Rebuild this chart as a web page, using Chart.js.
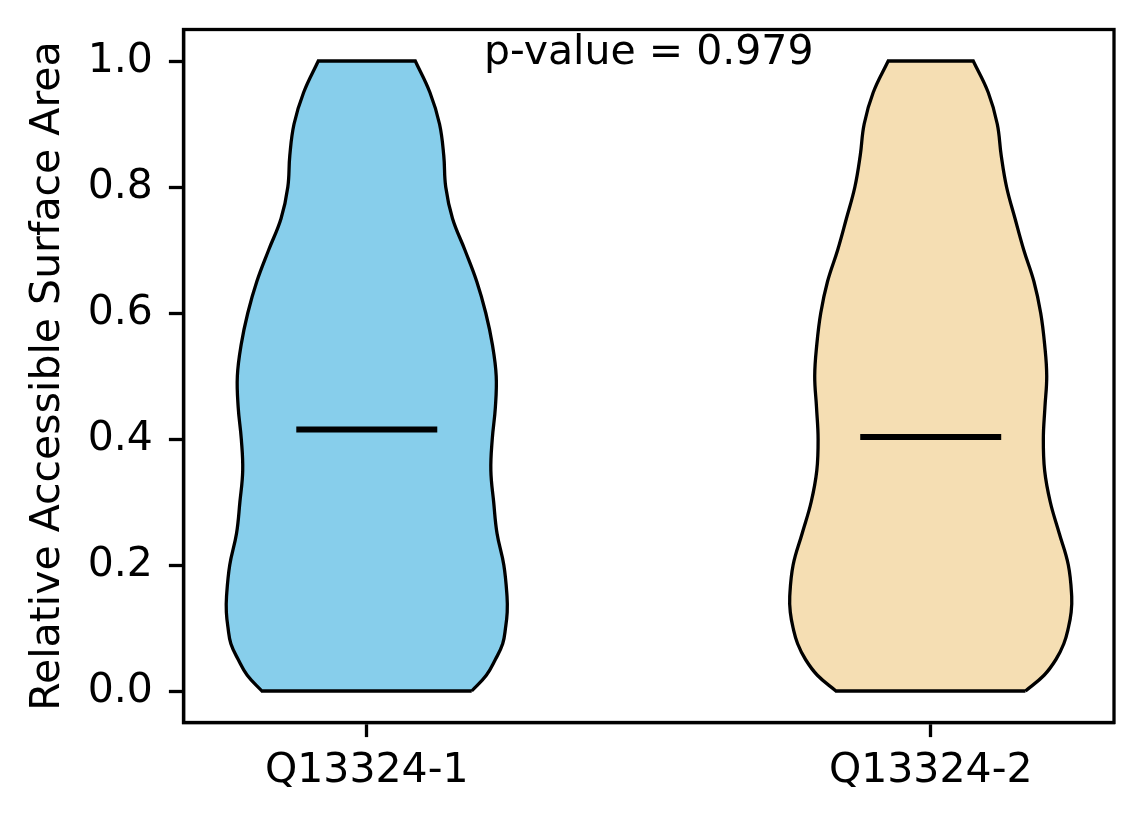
<!DOCTYPE html>
<html>
<head>
<meta charset="utf-8">
<script src="https://cdn.jsdelivr.net/npm/chart.js@4.4.1/dist/chart.umd.min.js"></script>
<style>
  html, body { margin: 0; padding: 0; background: #fff; }
  #contenedor { width: 1144px; height: 824px; }
</style>
</head>
<body>
<div id="contenedor"><canvas id="grafica" width="1144" height="824"></canvas></div>
<script>
// datos
const categorias = ['Q13324-1', 'Q13324-2'];
const posiciones = [1, 2];
const niveles = [0, 0.025, 0.05, 0.075, 0.1, 0.125, 0.15, 0.2, 0.25, 0.3, 0.35, 0.4,
                 0.45, 0.5, 0.55, 0.6, 0.65, 0.7, 0.75, 0.8, 0.85, 0.9, 0.95, 1.0];
// media anchura del violin en cada nivel
const anchoQ1 = [0.186, 0.212, 0.228, 0.241, 0.246, 0.249, 0.2487, 0.243, 0.231, 0.225, 0.220, 0.2225,
                 0.228, 0.2295, 0.2227, 0.211, 0.195, 0.174, 0.152, 0.140, 0.1365, 0.129, 0.112, 0.086];
const anchoQ2 = [0.168, 0.201, 0.222, 0.236, 0.244, 0.249, 0.250, 0.244, 0.228, 0.212, 0.202, 0.1997,
                 0.2025, 0.2057, 0.202, 0.195, 0.183, 0.165, 0.1495, 0.1345, 0.125, 0.118, 0.102, 0.0754];
const medianas = [0.415, 0.403];
const ticksY = [0, 0.2, 0.4, 0.6, 0.8, 1.0];
const pValor = 0.979;
const pValorPos = [1.5, 0.996];

// estilos
const colores = ['#87ceeb', '#f5deb3'];
const fuente = { family: 'DejaVu Sans', size: 41 };
const grosor = 3.3;
const mediaMediana = 0.125;

Chart.defaults.font.family = 'DejaVu Sans';

function puntosViolin(centro, anchos) {
  const der = niveles.map((y, i) => ({ x: centro + anchos[i], y: y }));
  const izq = niveles.map((y, i) => ({ x: centro - anchos[i], y: y })).reverse();
  const n = der.length;
  // se repiten las esquinas para que la curva no las redondee
  return [...der, { ...der[n - 1] }, { ...izq[0] }, ...izq, { ...izq[n - 1] }, { ...der[0] }];
}

const datasets = [];
const anchos = [anchoQ1, anchoQ2];
for (let i = 0; i < categorias.length; i++) {
  datasets.push({
    label: 'mediana ' + categorias[i],
    data: [
      { x: posiciones[i] - mediaMediana, y: medianas[i] },
      { x: posiciones[i] + mediaMediana, y: medianas[i] }
    ],
    borderColor: '#000',
    borderWidth: 6,
    borderCapStyle: 'butt',
    pointRadius: 0,
    fill: false,
    tension: 0,
    order: 0
  });
  datasets.push({
    label: categorias[i],
    data: puntosViolin(posiciones[i], anchos[i]),
    borderColor: '#000',
    borderWidth: grosor,
    borderJoinStyle: 'miter',
    backgroundColor: colores[i],
    fill: 'shape',
    tension: 0.4,
    pointRadius: 0,
    order: 1
  });
}

const marco = {
  id: 'marco',
  afterDraw(chart) {
    const { ctx, chartArea: a } = chart;
    ctx.save();
    ctx.strokeStyle = '#000';
    ctx.lineWidth = grosor;
    ctx.strokeRect(a.left, a.top, a.right - a.left, a.bottom - a.top);
    ctx.restore();
  }
};

const textoP = {
  id: 'textoP',
  afterDatasetsDraw(chart) {
    const { ctx, scales } = chart;
    ctx.save();
    ctx.font = `${fuente.size}px "${fuente.family}"`;
    ctx.fillStyle = '#000';
    ctx.textAlign = 'center';
    ctx.textBaseline = 'alphabetic';
    ctx.fillText(`p-value = ${pValor.toFixed(3)}`,
      scales.x.getPixelForValue(pValorPos[0]),
      scales.y.getPixelForValue(pValorPos[1]));
    ctx.restore();
  }
};

const ctx = document.getElementById('grafica').getContext('2d');
new Chart(ctx, {
  type: 'line',
  data: { datasets: datasets },
  plugins: [marco, textoP],
  options: {
    responsive: false,
    devicePixelRatio: 1,
    animation: false,
    layout: { padding: { top: 29.5, right: 30, bottom: 0, left: 0 } },
    plugins: {
      legend: { display: false },
      tooltip: { enabled: false }
    },
    scales: {
      x: {
        type: 'linear',
        min: 0.675,
        max: 2.325,
        afterBuildTicks: (s) => { s.ticks = posiciones.map(v => ({ value: v })); },
        afterFit: (s) => { s.height = 101.5; s.paddingLeft = 0; s.paddingRight = 0; },
        ticks: {
          callback: (v, i) => categorias[i],
          font: fuente,
          color: '#000',
          padding: 10,
          maxRotation: 0,
          autoSkip: false
        },
        grid: {
          drawOnChartArea: false,
          drawTicks: true,
          tickLength: 14.6,
          tickWidth: grosor,
          tickColor: '#000',
          color: '#000'
        },
        border: { display: true, color: '#000', width: grosor }
      },
      y: {
        type: 'linear',
        min: -0.05,
        max: 1.05,
        afterBuildTicks: (s) => { s.ticks = ticksY.map(v => ({ value: v })); },
        afterFit: (s) => { s.width = 183.5; s.paddingTop = 0; s.paddingBottom = 0; },
        ticks: {
          callback: (v) => v.toFixed(1),
          font: fuente,
          color: '#000',
          padding: 16
        },
        title: {
          display: true,
          text: 'Relative Accessible Surface Area',
          font: fuente,
          color: '#000',
          padding: { top: 24, bottom: 0 }
        },
        grid: {
          drawOnChartArea: false,
          drawTicks: true,
          tickLength: 14.6,
          tickWidth: grosor,
          tickColor: '#000',
          color: '#000'
        },
        border: { display: true, color: '#000', width: grosor }
      }
    }
  }
});
</script>
</body>
</html>
